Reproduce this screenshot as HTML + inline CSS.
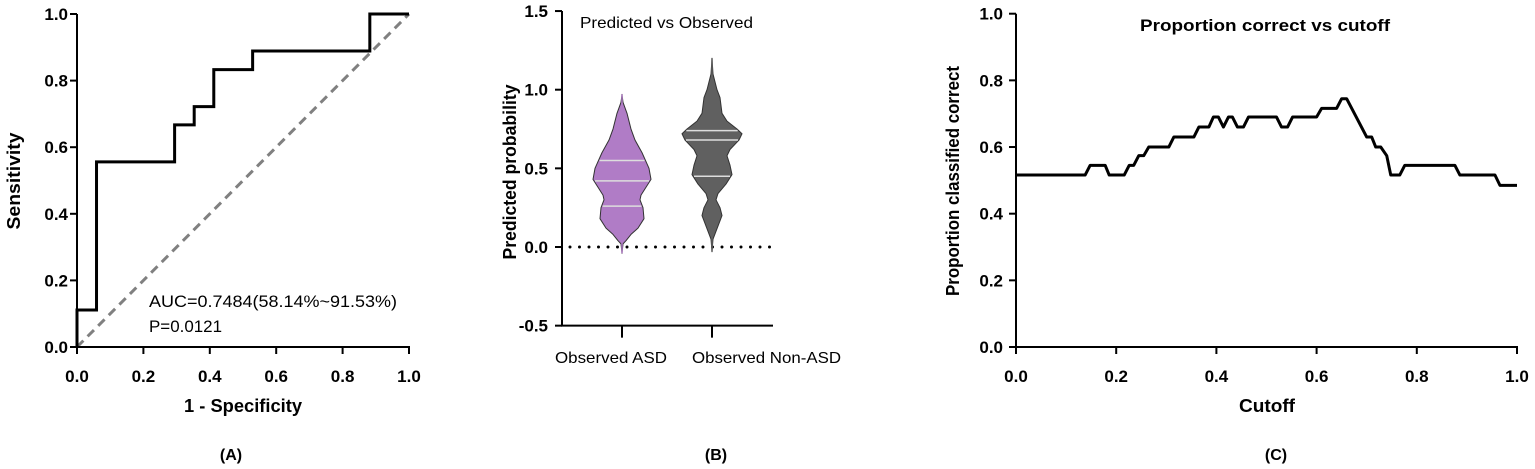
<!DOCTYPE html>
<html><head><meta charset="utf-8"><style>
html,body{margin:0;padding:0;background:#fff;}
svg{display:block;font-family:"Liberation Sans",Arial,sans-serif;}
.tk{font-weight:bold;font-size:17px;fill:#000;}
.ax{font-weight:bold;font-size:18px;fill:#000;}
</style></head><body>
<svg id="chart" width="1535" height="469" viewBox="0 0 1535 469"></svg>
<script>
// Panel A ROC data
const rocFpr = [0,0,0.0588,0.0588,0.294,0.294,0.353,0.353,0.412,0.412,0.529,0.529,0.882,0.882,1];
const rocTpr = [0,0.111,0.111,0.556,0.556,0.667,0.667,0.722,0.722,0.833,0.833,0.889,0.889,1,1];
const rocTicks = ["0.0","0.2","0.4","0.6","0.8","1.0"];
// Panel B violin data
const violinCats = ["Observed ASD","Observed Non-ASD"];
const asdY = [0.97,0.92,0.85,0.75,0.68,0.6,0.5,0.43,0.38,0.33,0.3,0.25,0.18,0.12,0.08,0.04,0.02,-0.04];
const asdW = [0,1,5,9,13,20,27,29,24,19,18,21,22,16,9,4,1,0];
const asdQuart = [0.55,0.42,0.26];
const nonY = [1.2,1.1,1.0,0.95,0.85,0.8,0.75,0.72,0.68,0.62,0.58,0.52,0.46,0.4,0.34,0.3,0.25,0.2,0.15,0.1,0.05,-0.03];
const nonW = [0,1,5,8,10,15,25,30,27,18,15,18,20,14,6,4,8,10,7,4,1,0];
const nonQuart = [0.74,0.68,0.45];
const bTicks = ["1.5","1.0","0.5","0.0","-0.5"];
// Panel C data
const cutX = [0,0.138,0.148,0.178,0.186,0.216,0.226,0.235,0.245,0.255,0.265,0.305,0.315,0.355,0.365,0.385,0.394,0.404,0.414,0.424,0.432,0.442,0.454,0.464,0.52,0.53,0.542,0.552,0.6,0.61,0.64,0.65,0.66,0.7,0.71,0.718,0.728,0.74,0.748,0.766,0.776,0.876,0.886,0.956,0.966,0.985,1];
const cutY = [0.516,0.516,0.545,0.545,0.516,0.516,0.545,0.545,0.574,0.574,0.6,0.6,0.63,0.63,0.66,0.66,0.69,0.69,0.66,0.69,0.69,0.66,0.66,0.69,0.69,0.66,0.66,0.69,0.69,0.716,0.716,0.745,0.745,0.63,0.63,0.6,0.6,0.574,0.516,0.516,0.545,0.545,0.516,0.516,0.485,0.485,0.485];

const svg=document.getElementById('chart');
const NS='http://www.w3.org/2000/svg';
function mk(tag,attrs,parent,text){const e=document.createElementNS(NS,tag);for(const k in attrs)e.setAttribute(k,attrs[k]);if(text!==undefined)e.textContent=text;(parent||svg).appendChild(e);return e;}
const fit={lengthAdjust:'spacingAndGlyphs'};

// ---------- Panel A ----------
const gA=mk('g',{});


const ax=v=>77+v*332, ay=v=>347-v*333;
mk('line',{x1:ax(0),y1:ay(0),x2:ax(1),y2:ay(1),stroke:'#808080','stroke-width':3,'stroke-dasharray':'9,6'},gA);
mk('line',{x1:77,y1:ay(0),x2:77,y2:ay(1),stroke:'#000','stroke-width':2},gA);
mk('line',{x1:76,y1:347,x2:410,y2:347,stroke:'#000','stroke-width':2},gA);
rocTicks.forEach((t,i)=>{const v=i/5;
 mk('line',{x1:70,y1:ay(v),x2:77,y2:ay(v),stroke:'#000','stroke-width':2},gA);
 mk('text',{x:68,y:ay(v)+6,'text-anchor':'end',class:'tk'},gA,t);
 mk('line',{x1:ax(v),y1:347,x2:ax(v),y2:354,stroke:'#000','stroke-width':2},gA);
 mk('text',{x:ax(v),y:382,'text-anchor':'middle',class:'tk'},gA,t);
});
const rl=mk('polyline',{points:rocFpr.map((f,i)=>ax(f)+','+ay(rocTpr[i])).join(' '),fill:'none',stroke:'#000','stroke-width':3},gA);

mk('text',{x:184,y:412,class:'ax',textLength:118,...fit},gA,'1 - Specificity');
mk('text',{x:0,y:0,'text-anchor':'middle',class:'ax',textLength:97,...fit,transform:'translate(20,181) rotate(-90)'},gA,'Sensitivity');
mk('text',{x:149,y:307,'font-size':'17px',textLength:248,...fit},gA,'AUC=0.7484(58.14%~91.53%)');
mk('text',{x:149,y:332,'font-size':'17px',textLength:73,...fit},gA,'P=0.0121');
mk('text',{x:231,y:460,'text-anchor':'middle','font-weight':'bold','font-size':'16px'},gA,'(A)');

// ---------- Panel B ----------
const gB=mk('g',{});


const by=v=>247-v*157.3;
const catX=[622,712];
function violin(cx,ys,ws,q,fill,name){
 const right=ys.map((y,i)=>(cx+ws[i])+','+by(y));
 const left=ys.map((y,i)=>(cx-ws[i])+','+by(y)).reverse();
 const p=mk('polygon',{points:right.concat(left).join(' '),fill:fill,stroke:'#333','stroke-width':1,'stroke-linejoin':'round'},gB);
 
 mk('line',{x1:cx,y1:by(ys[0]),x2:cx,y2:by(ys[ys.length-1]),stroke:fill,'stroke-width':1.5},gB);
 q.forEach(v=>{let w=0;for(let i=0;i<ys.length-1;i++){if(v<=ys[i]&&v>=ys[i+1]){const t=(ys[i]-v)/(ys[i]-ys[i+1]);w=ws[i]+(ws[i+1]-ws[i])*t;}}
  const l=mk('line',{x1:cx-w+1,y1:by(v),x2:cx+w-1,y2:by(v),stroke:'#ddd','stroke-width':1.5},gB);
  });
}
mk('line',{x1:570,y1:by(0),x2:773,y2:by(0),stroke:'#000','stroke-width':3,'stroke-dasharray':'0,9.5','stroke-linecap':'round'},gB);
violin(catX[0],asdY,asdW,asdQuart,'#b07cc6','violin-asd');
violin(catX[1],nonY,nonW,nonQuart,'#606060','violin-non-asd');
mk('line',{x1:562,y1:by(1.5),x2:562,y2:by(-0.5),stroke:'#000','stroke-width':2},gB);
mk('line',{x1:561,y1:by(-0.5),x2:773,y2:by(-0.5),stroke:'#000','stroke-width':2},gB);
bTicks.forEach((t,i)=>{const v=1.5-i*0.5;
 mk('line',{x1:555,y1:by(v),x2:562,y2:by(v),stroke:'#000','stroke-width':2},gB);
 mk('text',{x:548,y:by(v)+6,'text-anchor':'end',class:'tk'},gB,t);
});
const catLabelX=[555,692], catLabelW=[112,149];
violinCats.forEach((c,i)=>{
 mk('line',{x1:catX[i],y1:by(-0.5),x2:catX[i],y2:by(-0.5)+12,stroke:'#000','stroke-width':2},gB);
 mk('text',{x:catLabelX[i],y:363,'font-size':'16px',textLength:catLabelW[i],...fit},gB,c);
});
mk('text',{x:580,y:28,'font-size':'16px',textLength:173,...fit},gB,'Predicted vs Observed');
mk('text',{x:0,y:0,'text-anchor':'middle',class:'ax',textLength:175,...fit,transform:'translate(516,172) rotate(-90)'},gB,'Predicted probability');
mk('text',{x:716,y:460,'text-anchor':'middle','font-weight':'bold','font-size':'16px'},gB,'(B)');

// ---------- Panel C ----------
const gC=mk('g',{});


const cx=v=>1016+v*501, cy=v=>347-v*333.3;
mk('line',{x1:1016,y1:cy(0),x2:1016,y2:cy(1),stroke:'#000','stroke-width':2},gC);
mk('line',{x1:1015,y1:347,x2:1518,y2:347,stroke:'#000','stroke-width':2},gC);
rocTicks.forEach((t,i)=>{const v=i/5;
 mk('line',{x1:1009,y1:cy(v),x2:1016,y2:cy(v),stroke:'#000','stroke-width':2},gC);
 mk('text',{x:1003,y:cy(v)+6,'text-anchor':'end',class:'tk'},gC,t);
 mk('line',{x1:cx(v),y1:347,x2:cx(v),y2:354,stroke:'#000','stroke-width':2},gC);
 mk('text',{x:cx(v),y:382,'text-anchor':'middle',class:'tk'},gC,t);
});
const cl=mk('polyline',{points:cutX.map((x,i)=>cx(x)+','+cy(cutY[i])).join(' '),fill:'none',stroke:'#000','stroke-width':3,'stroke-linejoin':'round'},gC);

mk('text',{x:1140,y:31,'font-weight':'bold','font-size':'17px',textLength:250,...fit},gC,'Proportion correct vs cutoff');
mk('text',{x:1239,y:412,class:'ax',textLength:56,...fit},gC,'Cutoff');
mk('text',{x:0,y:0,'text-anchor':'middle',class:'ax',textLength:230,...fit,transform:'translate(959,181) rotate(-90)'},gC,'Proportion classified correct');
mk('text',{x:1276,y:460,'text-anchor':'middle','font-weight':'bold','font-size':'16px'},gC,'(C)');
</script>
</body></html>
